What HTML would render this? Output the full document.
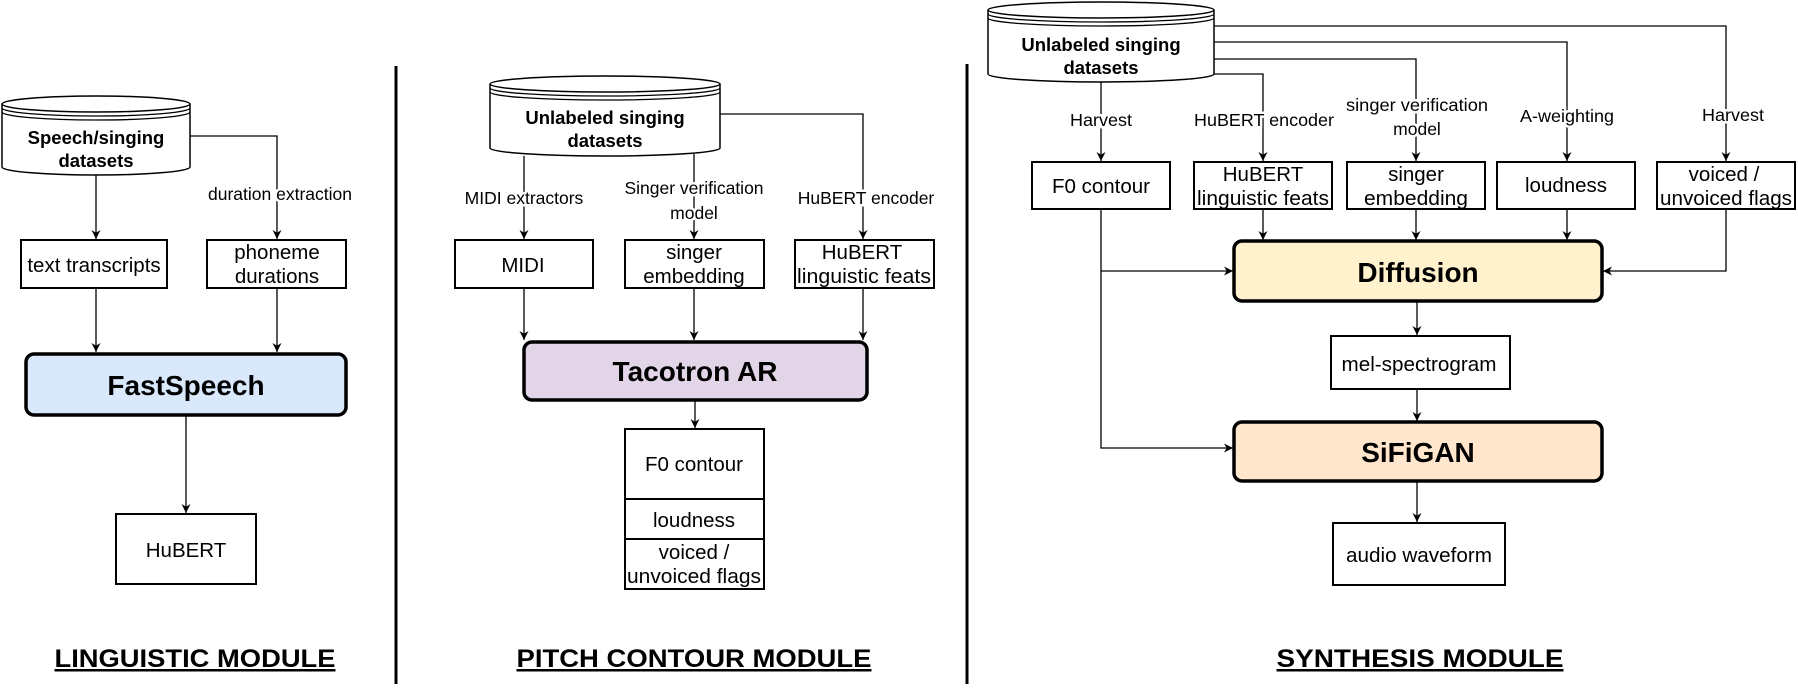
<!DOCTYPE html>
<html><head><meta charset="utf-8"><style>
html,body{margin:0;padding:0;background:#fff;}
svg{display:block;}
text{font-family:"Liberation Sans",Arial,sans-serif;fill:#000;}
.l{font-size:17.5px;paint-order:stroke;stroke:#fff;stroke-width:5px;}
.b{font-size:20.5px;}
.c{font-size:18.5px;font-weight:bold;}
.m{font-size:28px;font-weight:bold;}
.t{font-size:25px;font-weight:bold;text-decoration:underline;}
</style></head><body>
<svg width="1798" height="690" viewBox="0 0 1798 690" xmlns="http://www.w3.org/2000/svg">
<defs>
<marker id="a" viewBox="0 0 10 10" refX="10" refY="5" markerWidth="9" markerHeight="9" markerUnits="userSpaceOnUse" orient="auto">
<path d="M0,0 L10,5 L0,10 L3,5 z" fill="#000"/></marker>
</defs>
<g fill="none" stroke="#000" stroke-width="1.3">
<path d="M2,104 L2,167 A94,8 0 0 0 190,167 L190,104" fill="#fff" stroke-width="1.5"/>
<ellipse cx="96" cy="104" rx="94" ry="8" fill="#fff" stroke-width="1.5"/>
<path d="M2,108 A94,8 0 0 0 190,108 M2,112 A94,8 0 0 0 190,112"/>
<path d="M190,136 H277 V239" marker-end="url(#a)"/>
<path d="M96,175 V239" marker-end="url(#a)"/>
<path d="M96,288 V352" marker-end="url(#a)"/>
<path d="M277,288 V352" marker-end="url(#a)"/>
<path d="M186,416 V513" marker-end="url(#a)"/>
<path d="M490,84 L490,148 A115,8 0 0 0 720,148 L720,84" fill="#fff" stroke-width="1.5"/>
<ellipse cx="605" cy="84" rx="115" ry="8" fill="#fff" stroke-width="1.5"/>
<path d="M490,88 A115,8 0 0 0 720,88 M490,92 A115,8 0 0 0 720,92"/>
<path d="M720,114 H863 V239" marker-end="url(#a)"/>
<path d="M524,156 V239" marker-end="url(#a)"/>
<path d="M694,154 V239" marker-end="url(#a)"/>
<path d="M524,288 V340" marker-end="url(#a)"/>
<path d="M694,288 V340" marker-end="url(#a)"/>
<path d="M863,288 V340" marker-end="url(#a)"/>
<path d="M695,400 V428" marker-end="url(#a)"/>
<path d="M988,10 L988,74 A113,8 0 0 0 1214,74 L1214,10" fill="#fff" stroke-width="1.5"/>
<ellipse cx="1101" cy="10" rx="113" ry="8" fill="#fff" stroke-width="1.5"/>
<path d="M988,14 A113,8 0 0 0 1214,14 M988,18 A113,8 0 0 0 1214,18"/>
<path d="M1214,26 H1726 V161" marker-end="url(#a)"/>
<path d="M1214,42 H1567 V161" marker-end="url(#a)"/>
<path d="M1214,59 H1416 V161" marker-end="url(#a)"/>
<path d="M1214,74 H1263 V161" marker-end="url(#a)"/>
<path d="M1101,82 V161" marker-end="url(#a)"/>
<path d="M1263,209 V240" marker-end="url(#a)"/>
<path d="M1416,209 V240" marker-end="url(#a)"/>
<path d="M1567,209 V240" marker-end="url(#a)"/>
<path d="M1726,209 V271 H1603" marker-end="url(#a)"/>
<path d="M1101,209 V448 H1233" marker-end="url(#a)"/>
<path d="M1101,271 H1233" marker-end="url(#a)"/>
<path d="M1417,301 V335" marker-end="url(#a)"/>
<path d="M1417,389 V421" marker-end="url(#a)"/>
<path d="M1417,481 V522" marker-end="url(#a)"/>
</g>
<g fill="#fff" stroke="#000" stroke-width="2">
<rect x="21" y="240" width="146" height="48"/>
<rect x="207" y="240" width="139" height="48"/>
<rect x="116" y="514" width="140" height="70"/>
<rect x="455" y="240" width="138" height="48"/>
<rect x="625" y="240" width="139" height="48"/>
<rect x="795" y="240" width="139" height="48"/>
<rect x="625" y="429" width="139" height="70"/>
<rect x="625" y="499" width="139" height="40"/>
<rect x="625" y="539" width="139" height="50"/>
<rect x="1032" y="162" width="138" height="47"/>
<rect x="1194" y="162" width="138" height="47"/>
<rect x="1347" y="162" width="138" height="47"/>
<rect x="1497" y="162" width="138" height="47"/>
<rect x="1657" y="162" width="138" height="47"/>
<rect x="1331" y="336" width="179" height="53"/>
<rect x="1333" y="523" width="172" height="62"/>
</g>
<g stroke="#000" stroke-width="3.5">
<rect x="26" y="354" width="320" height="61" rx="8" fill="#dae8fc"/>
<rect x="524" y="342" width="343" height="58" rx="8" fill="#e1d5e7"/>
<rect x="1234" y="241" width="368" height="60" rx="8" fill="#fff2cc"/>
<rect x="1234" y="422" width="368" height="59" rx="8" fill="#ffe6cc"/>
</g>
<g stroke="#000" stroke-width="3">
<line x1="396" y1="66" x2="396" y2="684"/>
<line x1="967" y1="64" x2="967" y2="684"/>
</g>
<g text-anchor="middle">
<text class="c" x="96" y="144">Speech/singing</text>
<text class="c" x="96" y="167">datasets</text>
<text class="l" x="280" y="200">duration extraction</text>
<text class="b" x="94" y="272">text transcripts</text>
<text class="b" x="277" y="259">phoneme</text>
<text class="b" x="277" y="283">durations</text>
<text class="m" x="186" y="395">FastSpeech</text>
<text class="b" x="186" y="557">HuBERT</text>
<text class="t" x="195" y="667" textLength="281" lengthAdjust="spacingAndGlyphs">LINGUISTIC MODULE</text>

<text class="c" x="605" y="124">Unlabeled singing</text>
<text class="c" x="605" y="147">datasets</text>
<text class="l" x="524" y="204">MIDI extractors</text>
<text class="l" x="694" y="194">Singer verification</text>
<text class="l" x="694" y="219">model</text>
<text class="l" x="866" y="204">HuBERT encoder</text>
<text class="b" x="523" y="272">MIDI</text>
<text class="b" x="694" y="259">singer</text>
<text class="b" x="694" y="283">embedding</text>
<text class="b" x="862" y="259">HuBERT</text>
<text class="b" x="864" y="283" textLength="134" lengthAdjust="spacingAndGlyphs">linguistic feats</text>
<text class="m" x="695" y="381">Tacotron AR</text>
<text class="b" x="694" y="471">F0 contour</text>
<text class="b" x="694" y="527">loudness</text>
<text class="b" x="694" y="559">voiced /</text>
<text class="b" x="694" y="583" textLength="134" lengthAdjust="spacingAndGlyphs">unvoiced flags</text>
<text class="t" x="694" y="667" textLength="355" lengthAdjust="spacingAndGlyphs">PITCH CONTOUR MODULE</text>

<text class="c" x="1101" y="51">Unlabeled singing</text>
<text class="c" x="1101" y="74">datasets</text>
<text class="l" x="1101" y="126" textLength="62" lengthAdjust="spacingAndGlyphs">Harvest</text>
<text class="l" x="1264" y="126" textLength="140" lengthAdjust="spacingAndGlyphs">HuBERT encoder</text>
<text class="l" x="1417" y="111" textLength="142" lengthAdjust="spacingAndGlyphs">singer verification</text>
<text class="l" x="1417" y="135">model</text>
<text class="l" x="1567" y="122" textLength="94" lengthAdjust="spacingAndGlyphs">A-weighting</text>
<text class="l" x="1733" y="121" textLength="62" lengthAdjust="spacingAndGlyphs">Harvest</text>
<text class="b" x="1101" y="193" textLength="98" lengthAdjust="spacingAndGlyphs">F0 contour</text>
<text class="b" x="1263" y="181">HuBERT</text>
<text class="b" x="1263" y="205" textLength="132" lengthAdjust="spacingAndGlyphs">linguistic feats</text>
<text class="b" x="1416" y="181">singer</text>
<text class="b" x="1416" y="205" textLength="104" lengthAdjust="spacingAndGlyphs">embedding</text>
<text class="b" x="1566" y="192" textLength="82" lengthAdjust="spacingAndGlyphs">loudness</text>
<text class="b" x="1724" y="181">voiced /</text>
<text class="b" x="1726" y="205" textLength="132" lengthAdjust="spacingAndGlyphs">unvoiced flags</text>
<text class="m" x="1418" y="282">Diffusion</text>
<text class="b" x="1419" y="371" textLength="155" lengthAdjust="spacingAndGlyphs">mel-spectrogram</text>
<text class="m" x="1418" y="462">SiFiGAN</text>
<text class="b" x="1419" y="562" textLength="146" lengthAdjust="spacingAndGlyphs">audio waveform</text>
<text class="t" x="1420" y="667" textLength="287" lengthAdjust="spacingAndGlyphs">SYNTHESIS MODULE</text>
</g>
</svg>
</body></html>
